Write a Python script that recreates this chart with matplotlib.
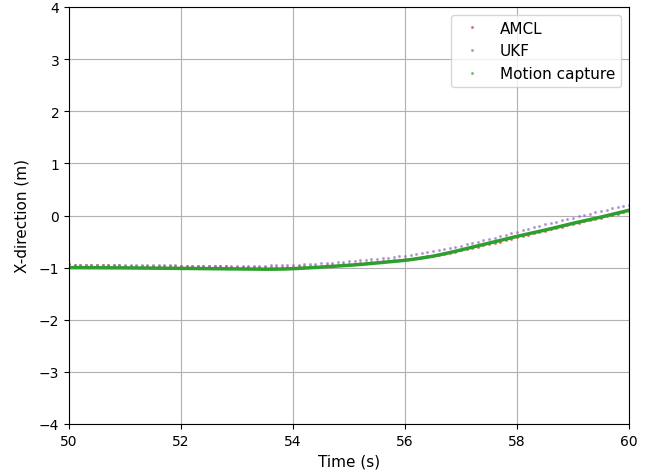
import numpy as np
import matplotlib
matplotlib.use("Agg")
import matplotlib.pyplot as plt

# time stamps, 0.1 s sampling
t = np.round(np.arange(50.0, 60.05, 0.1), 1)

amcl = [
    -0.940, -0.942, -0.944, -0.946, -0.948, -0.950, -0.952, -0.954, -0.956, -0.958,
    -0.960, -0.961, -0.962, -0.963, -0.964, -0.965, -0.966, -0.967, -0.968, -0.969,
    -0.970, -0.971, -0.972, -0.973, -0.974, -0.975, -0.976, -0.977, -0.978, -0.979,
    -0.980, -0.981, -0.982, -0.983, -0.984, -0.985, -0.985, -0.984, -0.983, -0.982,
    -0.980, -0.977, -0.973, -0.969, -0.965, -0.960, -0.955, -0.949, -0.943, -0.937,
    -0.930, -0.923, -0.915, -0.907, -0.899, -0.890, -0.881, -0.871, -0.861, -0.851,
    -0.840, -0.827, -0.814, -0.800, -0.785, -0.770, -0.752, -0.733, -0.713, -0.692,
    -0.670, -0.647, -0.623, -0.599, -0.575, -0.550, -0.525, -0.499, -0.473, -0.447,
    -0.420, -0.394, -0.368, -0.342, -0.316, -0.290, -0.264, -0.238, -0.212, -0.186,
    -0.160, -0.136, -0.112, -0.088, -0.064, -0.040, -0.014, 0.012, 0.038, 0.064,
    0.090,
]

ukf = [
    -0.940, -0.941, -0.942, -0.943, -0.944, -0.945, -0.946, -0.947, -0.948, -0.949,
    -0.950, -0.951, -0.951, -0.952, -0.953, -0.955, -0.955, -0.956, -0.957, -0.958,
    -0.960, -0.961, -0.961, -0.962, -0.963, -0.965, -0.965, -0.965, -0.965, -0.965,
    -0.965, -0.965, -0.964, -0.963, -0.962, -0.960, -0.958, -0.956, -0.954, -0.952,
    -0.950, -0.945, -0.939, -0.933, -0.927, -0.920, -0.913, -0.905, -0.897, -0.889,
    -0.880, -0.871, -0.861, -0.851, -0.841, -0.830, -0.819, -0.807, -0.795, -0.783,
    -0.770, -0.756, -0.741, -0.725, -0.708, -0.690, -0.670, -0.649, -0.627, -0.604,
    -0.580, -0.555, -0.529, -0.503, -0.477, -0.450, -0.423, -0.395, -0.367, -0.339,
    -0.310, -0.282, -0.254, -0.226, -0.198, -0.170, -0.144, -0.118, -0.092, -0.066,
    -0.040, -0.014, 0.012, 0.038, 0.064, 0.090, 0.114, 0.138, 0.162, 0.186,
    0.210,
]

mocap = [
    -1.000, -1.000, -1.001, -1.001, -1.002, -1.002, -1.003, -1.003, -1.004, -1.004,
    -1.005, -1.006, -1.007, -1.008, -1.009, -1.010, -1.011, -1.012, -1.013, -1.014,
    -1.015, -1.016, -1.017, -1.018, -1.019, -1.020, -1.021, -1.022, -1.023, -1.024,
    -1.025, -1.026, -1.027, -1.028, -1.029, -1.030, -1.030, -1.029, -1.027, -1.024,
    -1.020, -1.015, -1.009, -1.003, -0.997, -0.990, -0.983, -0.976, -0.969, -0.962,
    -0.955, -0.947, -0.939, -0.930, -0.920, -0.910, -0.900, -0.890, -0.880, -0.870,
    -0.860, -0.846, -0.831, -0.815, -0.798, -0.780, -0.758, -0.735, -0.711, -0.686,
    -0.660, -0.634, -0.608, -0.582, -0.556, -0.530, -0.504, -0.478, -0.452, -0.426,
    -0.400, -0.376, -0.352, -0.328, -0.304, -0.280, -0.254, -0.228, -0.202, -0.176,
    -0.150, -0.126, -0.102, -0.078, -0.054, -0.030, -0.004, 0.022, 0.048, 0.074,
    0.100,
]

fig = plt.figure(figsize=(6.6, 4.77), dpi=100)
ax = fig.add_subplot(111)
fig.subplots_adjust(left=69/660, right=629/660, top=1-8/477, bottom=1-425/477)

ax.plot(t, amcl, '.', ms=2.5, color='tab:red', alpha=0.5, label='AMCL')
ax.plot(t, ukf, '.', ms=2.5, color='tab:purple', alpha=0.5, label='UKF')
ax.plot(t, mocap, '-', lw=2.5, color='tab:green')
ax.plot([], [], '.', ms=2.5, color='tab:green', alpha=0.5, label='Motion capture')

ax.set_xlim(50, 60)
ax.set_ylim(-4, 4)
ax.set_xlabel("Time (s)", fontsize=11)
ax.set_ylabel("X-direction (m)", fontsize=11, labelpad=7)
ax.grid(True)
ax.legend(loc='upper right', fontsize=11)

fig.savefig("out.png", dpi=100)
